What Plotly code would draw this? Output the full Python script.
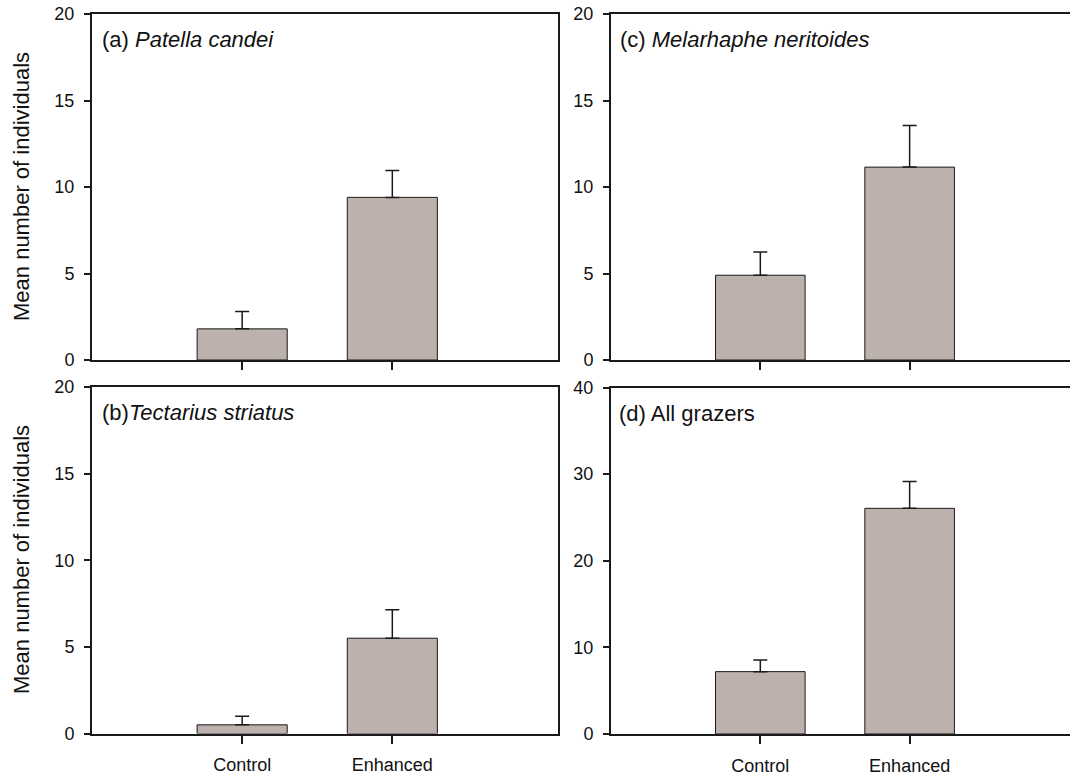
import plotly.graph_objects as go

categories = ["Control", "Enhanced"]

a_means = [1.8, 9.4]
a_se = [1.0, 1.55]
b_means = [0.5, 5.5]
b_se = [0.5, 1.65]
c_means = [4.9, 11.15]
c_se = [1.35, 2.4]
d_means = [7.2, 26.05]
d_se = [1.35, 3.1]

panel_labels = ["(a) <i>Patella candei</i>", "(b)<i>Tectarius striatus</i>",
                "(c) <i>Melarhaphe neritoides</i>", "(d) All grazers"]
y_title = "Mean number of individuals"
y_ticks_small = [0, 5, 10, 15, 20]
y_ticks_big = [0, 10, 20, 30, 40]

W, H = 1070, 778
BAR = "#bcb1ac"
LINE = "#1a1a1a"
FONT = "Liberation Sans, Arial, sans-serif"


def px(x):
    return x / W


def py(y):
    return 1 - y / H


fig = go.Figure()

panels = [
    (a_means, a_se, "x", "y", (92, 557.5), (14, 360), [-1, 2.1], [0, 20], y_ticks_small, False, True),
    (b_means, b_se, "x2", "y2", (92, 557.5), (387, 733.5), [-1, 2.1], [0, 20], y_ticks_small, True, True),
    (c_means, c_se, "x3", "y3", (611, 1070), (14, 360), [-1, 2.074], [0, 20], y_ticks_small, False, False),
    (d_means, d_se, "x4", "y4", (611, 1070), (387.5, 734), [-1, 2.074], [0, 40], y_ticks_big, True, False),
]

layout = {}
for i, (m, se, xa, ya, xd, yd, xr, yr, yt, showx, mir) in enumerate(panels):
    fig.add_trace(go.Bar(
        x=categories, y=m, xaxis=xa, yaxis=ya, width=0.6,
        marker=dict(color=BAR, line=dict(color=LINE, width=1)),
        error_y=dict(type="data", array=se, arrayminus=[0, 0], symmetric=False,
                     color=LINE, thickness=1.5, width=7),
        showlegend=False,
    ))
    xkey = "xaxis" if i == 0 else f"xaxis{i+1}"
    ykey = "yaxis" if i == 0 else f"yaxis{i+1}"
    layout[xkey] = dict(
        domain=[px(xd[0]), px(xd[1])], range=xr, anchor=ya, type="category",
        showline=True, linecolor=LINE, linewidth=2, mirror=True,
        ticks="outside", ticklen=8, tickwidth=1.5, tickcolor=LINE,
        showticklabels=showx, showgrid=False, zeroline=False,
        tickfont=dict(family=FONT, size=18, color="#111"),
        ticklabelstandoff=6, fixedrange=True, automargin=False,
    )
    layout[ykey] = dict(
        domain=[py(yd[1]), py(yd[0])], range=yr, anchor=xa,
        showline=True, linecolor=LINE, linewidth=2, mirror=mir,
        ticks="outside", ticklen=6, tickwidth=1.5, tickcolor=LINE,
        tickvals=yt, showgrid=False, zeroline=False,
        tickfont=dict(family=FONT, size=18, color="#111"),
        ticklabelstandoff=6, fixedrange=True, automargin=False,
    )

fig.update_layout(**layout)

annotations = []
label_pos = [(100, 39), (100, 412), (618, 39), (617, 413)]
for lab, (lx, ly) in zip(panel_labels, label_pos):
    annotations.append(dict(
        text=lab, x=px(lx), y=py(ly), xref="paper", yref="paper",
        xanchor="left", yanchor="middle", showarrow=False,
        font=dict(family=FONT, size=22, color="#111"),
    ))
for cy in (187, 560):
    annotations.append(dict(
        text=y_title, x=px(21), y=py(cy), xref="paper", yref="paper",
        xanchor="center", yanchor="middle", showarrow=False, textangle=-90,
        font=dict(family=FONT, size=22, color="#111"),
    ))

fig.update_layout(
    width=W, height=H,
    margin=dict(l=0, r=0, t=0, b=0, pad=0, autoexpand=False),
    paper_bgcolor="white", plot_bgcolor="white",
    annotations=annotations,
    bargap=0.4,
)

fig.write_html(
    "out.html",
    config={"displayModeBar": False},
    post_script="document.documentElement.style.overflow='hidden';document.body.style.margin='0';document.body.style.overflow='hidden';",
)
